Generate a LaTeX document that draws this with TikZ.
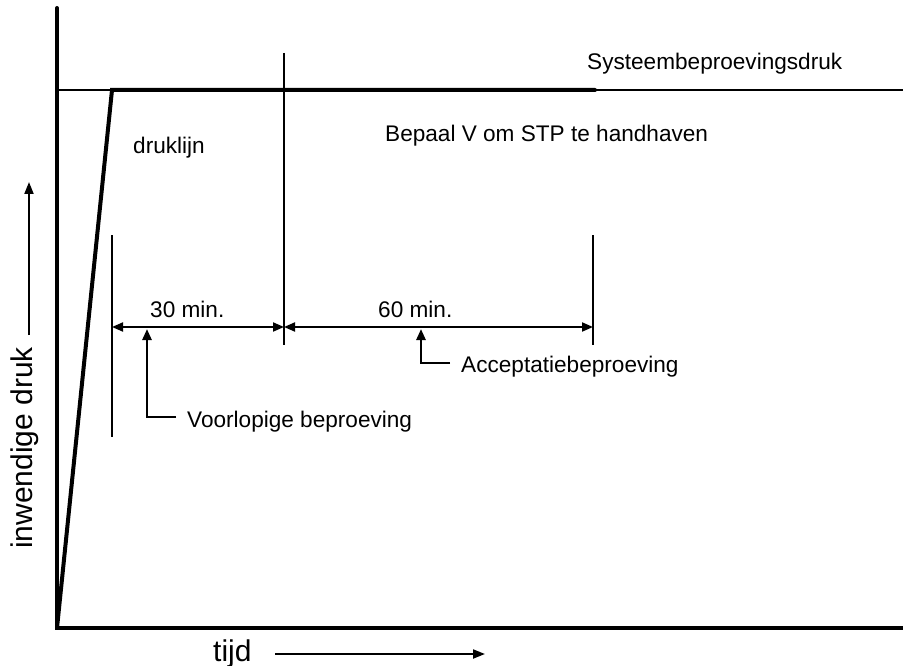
\documentclass[tikz,border=0pt]{standalone}
\usepackage{fontspec}
\setmainfont{Liberation Sans}
\usetikzlibrary{arrows.meta, positioning}

\tikzset{
  as/.style={line width=4pt, line cap=round, line join=miter},
  hulplijn/.style={line width=1.2pt},
  maat/.style={line width=2pt, {Triangle[length=11pt,width=9pt]}-{Triangle[length=11pt,width=9pt]}},
  verwijs/.style={line width=2.5pt, -{Triangle[length=11pt,width=9pt]}},
  label/.style={inner sep=0pt, anchor=base west, font=\fontsize{22.6}{27}\selectfont},
  aslabel/.style={inner sep=0pt, font=\fontsize{30}{36}\selectfont},
}

\begin{document}
\begin{tikzpicture}[x=1pt, y=-1pt, >=Stealth]
  \useasboundingbox (0,0) rectangle (903,666);

  % Assen
  \coordinate (O) at (57,628);
  \coordinate (ytop) at (57,8);
  \coordinate (xend) at (903,628);
  \draw[as] (ytop) -- (O) -- (xend);

  % Systeembeproevingsdruk
  \coordinate (h1) at (57,90);
  \coordinate (h2) at (903,90);
  \draw[hulplijn] (h1) -- (h2);
  \node[label] (sbd) at (587,70) {Systeembeproevingsdruk};

  % Druklijn
  \coordinate (P1) at (112,90);
  \coordinate (P2) at (595,90);
  \draw[as] (O) -- (P1) -- (P2);
  \node[label] (dl) at (133,154) {druklijn};
  \node[label] (stp) at (385,142) {Bepaal V om STP te handhaven};

  % Hulplijnen
  \coordinate (v1a) at (112,235);
  \coordinate (v1b) at (112,437);
  \coordinate (v2a) at (284,53);
  \coordinate (v2b) at (284,345);
  \coordinate (v3a) at (593,235);
  \coordinate (v3b) at (593,345);
  \draw[hulplijn] (v1a) -- (v1b);
  \draw[hulplijn] (v2a) -- (v2b);
  \draw[hulplijn] (v3a) -- (v3b);

  % Maatlijnen
  \coordinate (d1) at (112,327);
  \coordinate (d2) at (284,327);
  \coordinate (d3) at (593,327);
  \draw[maat] (d1) -- (d2);
  \draw[maat] (d2) -- (d3);
  \node[label] (t30) at (150,317) {30 min.};
  \node[label] (t60) at (378,317) {60 min.};

  % Verwijzingen
  \node[label] (vb) at (187,427) {Voorlopige beproeving};
  \coordinate (vbstart) at (176,417);
  \coordinate (vbpijl) at (147,329);
  \draw[verwijs] (vbstart) -| (vbpijl);
  \node[label] (ab) at (461,372) {Acceptatiebeproeving};
  \coordinate (abstart) at (450,363);
  \coordinate (abpijl) at (421,329);
  \draw[verwijs] (abstart) -| (abpijl);

  % Aslabels
  \node[aslabel, rotate=90, anchor=base] (idruk) at (32,448) {inwendige druk};
  \coordinate (ya) at (29,335);
  \coordinate (yb) at (29,182);
  \draw[line width=2pt, -{Triangle[length=12pt,width=9pt]}] (ya) -- (yb);
  \node[aslabel, anchor=base west] (tijd) at (213,661) {tijd};
  \coordinate (xa) at (275,654);
  \coordinate (xb) at (485,654);
  \draw[line width=2pt, -{Triangle[length=12pt,width=9pt]}] (xa) -- (xb);
\end{tikzpicture}
\end{document}
